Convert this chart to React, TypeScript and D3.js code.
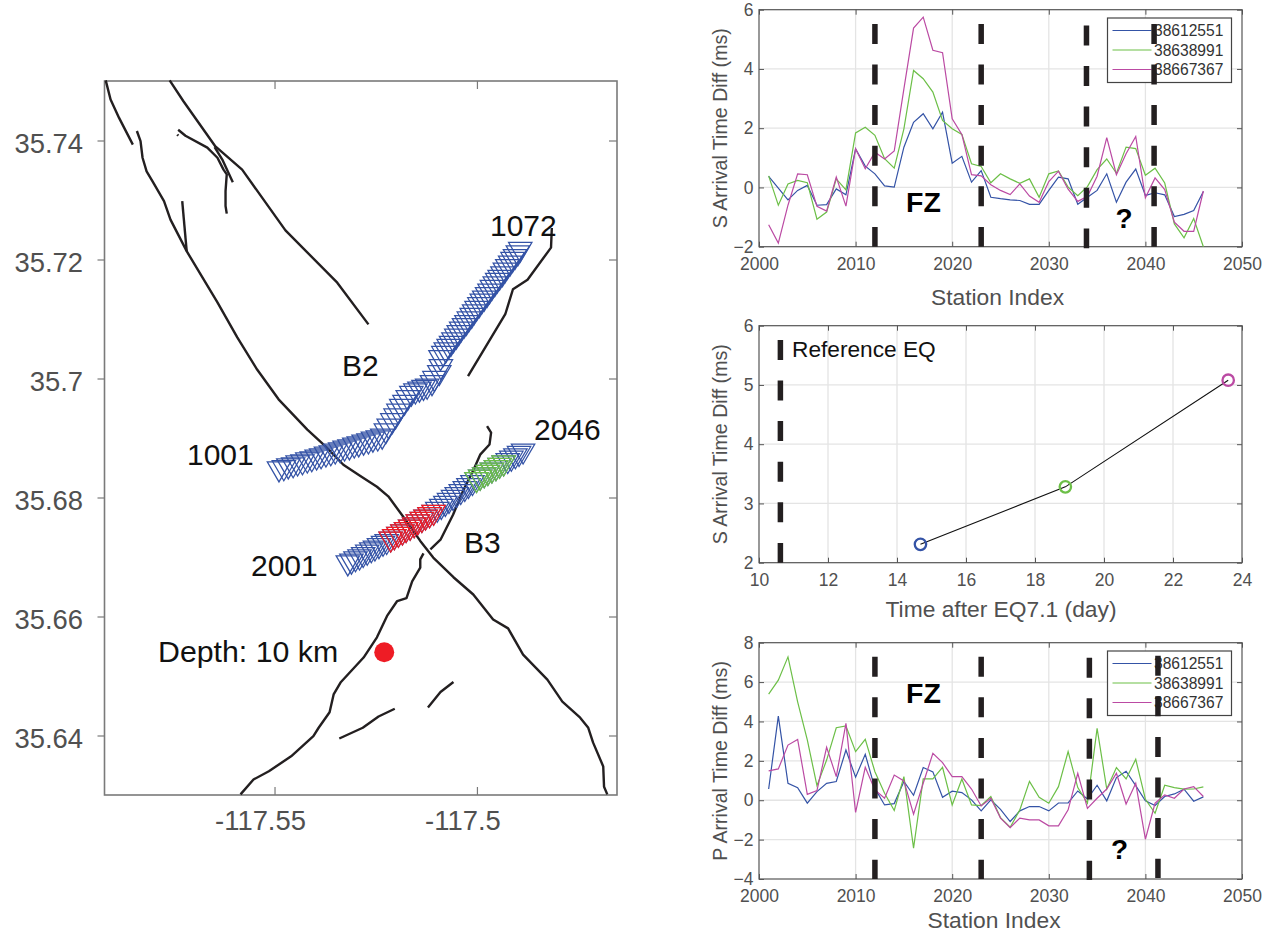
import { useEffect, useRef } from "react";
import * as d3 from "d3";

const FONT = "'Liberation Sans', Arial, sans-serif";
const BLUE = "#3453a6";
const GREEN = "#6cbf47";
const PURPLE = "#bb4aa3";
const RED = "#ee1c25";
const INK = "#231f20";
const TICK_TEXT = "#505050";

type Pt = [number, number];

// event ids used by both station panels
const eventIds = ["38612551", "38638991", "38667367"];
const stationIdx = d3.range(2001, 2047);

// S arrival time differences (ms)
const sEvent1 = [0.37, -0.02, -0.42, -0.1, 0.07, -0.6, -0.58, -0.05, -0.25, 1.3, 0.72, 0.46, 0.05, 0.01, 1.36, 2.2, 2.49, 1.98, 2.54, 0.82, 1.05, 0.18, 0.57, -0.33, -0.38, -0.42, -0.44, -0.57, -0.57, -0.1, 0.35, 0.29, -0.57, -0.33, -0.1, 0.46, -0.5, 0.18, 0.62, -0.27, -0.18, -0.25, -0.98, -0.91, -0.78, -0.14];
const sEvent2 = [0.39, -0.6, 0.12, 0.24, 0.16, -1.07, -0.83, 0.29, -0.08, 1.84, 2.03, 1.76, 0.97, 0.65, 1.98, 3.95, 3.67, 3.22, 2.26, 1.98, 1.79, 0.8, 0.71, 0.16, 0.46, 0.29, 0.14, 0.29, -0.33, 0.46, 0.56, 0.01, -0.28, 0.03, 0.6, 0.96, 0.48, 1.36, 1.31, 0.41, 0.65, 0.15, -1.23, -1.7, -1.05, -2.0];
const sEvent3 = [-1.26, -1.88, -0.6, 0.46, 0.43, -0.64, -0.8, 0.35, -0.63, 1.31, 0.63, 1.19, 0.96, 1.23, 3.33, 5.38, 5.75, 4.63, 4.55, 2.32, 1.79, 0.43, 0.39, 0.09, -0.1, -0.24, 0.12, -0.29, -0.5, 0.2, 0.55, -0.06, -0.47, -0.3, 0.38, 1.68, 0.43, 1.14, 1.72, -0.35, 0.32, -0.07, -1.17, -1.48, -1.48, -0.12];

// P arrival time differences (ms)
const pEvent1 = [0.57, 4.27, 0.86, 0.64, -0.15, 0.44, 0.86, 0.95, 2.55, 1.17, 2.33, 0.6, -0.24, -0.17, 0.95, 0.25, 1.66, 1.44, 0.15, 0.46, 0.39, 0.02, -0.54, 0.02, -0.46, -1.08, -0.54, -0.32, -0.32, -0.54, -0.14, -0.14, 0.47, 0.07, 0.76, -0.03, 1.15, 1.47, 0.74, -0.03, -0.27, 0.19, 0.32, 0.56, -0.05, 0.17];
const pEvent2 = [5.39, 6.1, 7.28, 5.0, 3.06, 0.74, 2.04, 3.68, 3.77, 2.47, 3.09, 1.45, 0.35, -0.52, 1.2, -2.43, 1.08, 1.08, 1.67, -0.24, 1.08, -0.24, -0.27, 0.19, -0.88, -1.37, -0.49, 0.96, 0.15, -0.15, 0.69, 2.47, 0.64, -0.15, 3.65, 0.57, 1.66, 1.08, 2.08, 0.05, -0.66, 0.76, 0.64, 0.56, 0.57, 0.68];
const pEvent3 = [1.49, 1.59, 2.8, 3.09, 0.3, 0.49, 2.69, 1.2, 3.9, -0.62, 1.67, 0.52, 0.1, 1.28, 0.98, -0.71, 0.86, 2.38, 1.91, 1.2, 1.2, 0.57, -0.29, 0.1, -0.91, -1.39, -0.91, -1.0, -1.0, -1.3, -1.3, -0.49, 1.37, -0.41, 0.1, 0.57, 1.37, -0.19, 0.86, -1.98, -0.15, 0.27, 0.1, 0.57, 0.69, 0.19];

// middle panel
const eqDays = [14.68, 18.88, 23.6];
const eqDiff = [2.31, 3.28, 5.08];
const referenceDay = 10.62;

// vertical marker lines: [x, top value, bottom value]
const sMarkers: [number, number, number][] = [[2012, 5.52, -2], [2023, 5.52, -2], [2033.9, 5.47, -2.05], [2040.9, 5.52, -2]];
const pMarkers: [number, number, number][] = [[2012, 7.29, -4], [2023, 7.29, -4], [2034.2, 7.24, -4.05], [2041.3, 7.34, -3.95]];

// map: fault traces as lon/lat
const faults: Pt[][] = [
  [[-117.5917, 35.7501], [-117.5905, 35.7469], [-117.5884, 35.7438], [-117.585, 35.7393]],
  [[-117.584, 35.7416], [-117.5831, 35.7399], [-117.5826, 35.7371], [-117.5816, 35.7348], [-117.5802, 35.7332], [-117.5773, 35.7298], [-117.5757, 35.7267], [-117.5717, 35.7214], [-117.5641, 35.7128], [-117.5592, 35.7069], [-117.5543, 35.7015], [-117.549, 35.6965], [-117.5419, 35.6914], [-117.5374, 35.6886], [-117.533, 35.6855], [-117.5288, 35.6836], [-117.5247, 35.6818], [-117.5219, 35.6802], [-117.5177, 35.6763], [-117.514, 35.6727], [-117.5108, 35.6699], [-117.5058, 35.6666], [-117.5009, 35.6637], [-117.496, 35.6595], [-117.4923, 35.658], [-117.4886, 35.6536], [-117.4826, 35.6494], [-117.4789, 35.6457], [-117.4745, 35.643], [-117.4725, 35.6413], [-117.4713, 35.6388], [-117.4688, 35.6348], [-117.4686, 35.6314], [-117.4678, 35.6301]],
  [[-117.5759, 35.7501], [-117.5725, 35.7466], [-117.5646, 35.739], [-117.558, 35.7351], [-117.5473, 35.7249], [-117.5345, 35.7161], [-117.5268, 35.7091]],
  [[-117.5738, 35.7418], [-117.572, 35.7408], [-117.5666, 35.7388], [-117.5641, 35.7371], [-117.5626, 35.7351], [-117.5618, 35.7343], [-117.5621, 35.7315], [-117.5621, 35.729], [-117.5618, 35.7277]],
  [[-117.5648, 35.7389], [-117.5629, 35.7368], [-117.5603, 35.733]],
  [[-117.574, 35.741], [-117.5738, 35.7408]],
  [[-117.5728, 35.7298], [-117.5717, 35.7214]],
  [[-117.5022, 35.7004], [-117.493, 35.7108], [-117.4911, 35.715], [-117.4875, 35.7166], [-117.4817, 35.722], [-117.4815, 35.7253]],
  [[-117.4975, 35.692], [-117.4965, 35.6909], [-117.4969, 35.6889], [-117.4992, 35.6872], [-117.5008, 35.6847], [-117.5033, 35.6813], [-117.5059, 35.6771], [-117.509, 35.6729], [-117.5115, 35.6713]],
  [[-117.5132, 35.6706], [-117.514, 35.6696], [-117.514, 35.6682], [-117.516, 35.6659], [-117.5174, 35.6631], [-117.5197, 35.6626], [-117.5222, 35.6601], [-117.5247, 35.6565], [-117.528, 35.6531], [-117.5337, 35.6489], [-117.5354, 35.6469], [-117.5364, 35.6439], [-117.5391, 35.6413], [-117.5404, 35.6399], [-117.5459, 35.6365], [-117.5514, 35.634], [-117.5552, 35.6326], [-117.5584, 35.6301]],
  [[-117.534, 35.6395], [-117.5282, 35.6413], [-117.5243, 35.6432], [-117.5203, 35.6445]],
  [[-117.5121, 35.6447], [-117.509, 35.6473], [-117.5058, 35.649]],
];

// array B2 stations 1001..1072
const b2Lon = [-117.5489, -117.5477, -117.5466, -117.5454, -117.5443, -117.5431, -117.5419, -117.5408, -117.5396, -117.5385, -117.5373, -117.5361, -117.535, -117.5338, -117.5327, -117.5315, -117.5303, -117.5292, -117.528, -117.5268, -117.5257, -117.5245, -117.5234,
  -117.5225, -117.5218, -117.5209, -117.5201, -117.5194, -117.5187, -117.5179, -117.5171, -117.5162, -117.5152, -117.5142, -117.5132, -117.5123, -117.5111, -117.5105, -117.5093, -117.5089, -117.509,
  -117.5083, -117.5077, -117.507, -117.5064, -117.5058, -117.5051, -117.5045, -117.5039, -117.5032, -117.5026, -117.502, -117.5013, -117.5007, -117.5001, -117.4994, -117.4988, -117.4982, -117.4975, -117.4969, -117.4963, -117.4956, -117.495, -117.4944, -117.4937, -117.4931, -117.4925, -117.4918, -117.4912, -117.4906, -117.4899, -117.4893];
const b2Lat = [35.6843, 35.6845, 35.6848, 35.685, 35.6853, 35.6855, 35.6858, 35.686, 35.6863, 35.6865, 35.6868, 35.687, 35.6873, 35.6875, 35.6878, 35.688, 35.6883, 35.6885, 35.6888, 35.689, 35.6893, 35.6895, 35.6898,
  35.6907, 35.6915, 35.6924, 35.6932, 35.694, 35.6948, 35.6955, 35.6963, 35.697, 35.6974, 35.6977, 35.698, 35.6982, 35.6988, 35.6995, 35.7005, 35.7015, 35.703,
  35.7037, 35.7043, 35.7049, 35.7054, 35.706, 35.7066, 35.7072, 35.7078, 35.7084, 35.7089, 35.7095, 35.7101, 35.7107, 35.7113, 35.7119, 35.7125, 35.713, 35.7136, 35.7142, 35.7148, 35.7154, 35.716, 35.7165, 35.7171, 35.7177, 35.7183, 35.7189, 35.7195, 35.72, 35.7206, 35.7212];

// array B3 stations 2001..2046
const b3Lon = [-117.5319, -117.531, -117.53, -117.529, -117.5281, -117.5271, -117.5261, -117.5252, -117.5242, -117.5232, -117.5223, -117.5213, -117.5204, -117.5194, -117.5184, -117.5175, -117.5165, -117.5155, -117.5146, -117.5136, -117.5127, -117.5117, -117.5107, -117.5098, -117.5088, -117.5078, -117.5069, -117.5059, -117.505, -117.504, -117.503, -117.5021, -117.5011, -117.5001, -117.4992, -117.4982, -117.4973, -117.4963, -117.4953, -117.4944, -117.4934, -117.4924, -117.4915, -117.4905, -117.4896, -117.4886];
const b3Lat = [35.6685, 35.6688, 35.6692, 35.6695, 35.6699, 35.6703, 35.6707, 35.671, 35.6714, 35.6718, 35.6721, 35.6725, 35.6729, 35.6733, 35.6737, 35.6741, 35.6745, 35.6749, 35.6754, 35.6758, 35.6762, 35.6766, 35.677, 35.6775, 35.678, 35.6785, 35.679, 35.6795, 35.68, 35.6805, 35.681, 35.6815, 35.682, 35.6825, 35.6829, 35.6833, 35.6837, 35.6841, 35.6845, 35.6849, 35.6853, 35.6857, 35.6861, 35.6865, 35.6869, 35.6873];

const fzStations = [2012, 2023];
const secondZone = [2034, 2041];
const epicenter: Pt = [-117.5229, 35.654];

const lonTicks = [-117.55, -117.5];
const latTicks = [35.64, 35.66, 35.68, 35.7, 35.72, 35.74];

type Sel = d3.Selection<any, any, any, any>;

function addText(g: Sel, str: string, x: number, y: number, size: number, weight = "normal", fill = "#111") {
  g.append("text").attr("x", x).attr("y", y).attr("font-size", size).attr("font-weight", weight).attr("fill", fill).text(str);
}

function panelFrame(svg: Sel, x: d3.ScaleLinear<number, number>, y: d3.ScaleLinear<number, number>, xTicks: number[], yTicks: number[], yLabel: string, xLabel: string, xLabelX: number, xLabelY: number) {
  const [l, r] = x.range();
  const [b, t] = y.range();
  const g = svg.append("g");

  // grid first so the lines go over it
  g.append("g").selectAll("line").data(xTicks.slice(1, -1)).join("line")
    .attr("x1", d => x(d)).attr("x2", d => x(d)).attr("y1", t).attr("y2", b)
    .attr("stroke", "#e4e4e4").attr("stroke-width", 1.3);
  g.append("g").selectAll("line").data(yTicks.slice(1, -1)).join("line")
    .attr("y1", d => y(d)).attr("y2", d => y(d)).attr("x1", l).attr("x2", r)
    .attr("stroke", "#e4e4e4").attr("stroke-width", 1.3);

  g.append("rect").attr("x", l).attr("y", t).attr("width", r - l).attr("height", b - t)
    .attr("fill", "none").attr("stroke", "#555").attr("stroke-width", 1.2);

  const bottom = g.append("g").attr("transform", `translate(0,${b})`)
    .call(d3.axisBottom(x).tickValues(xTicks).tickSize(-5).tickPadding(10.5).tickFormat(d3.format("d") as any));
  const left = g.append("g").attr("transform", `translate(${l},0)`)
    .call(d3.axisLeft(y).tickValues(yTicks).tickSize(-5).tickPadding(5.5).tickFormat(d3.format("d") as any));
  g.append("g").attr("transform", `translate(0,${t})`)
    .call(d3.axisTop(x).tickValues(xTicks).tickSize(-5).tickFormat(() => ""));
  g.append("g").attr("transform", `translate(${r},0)`)
    .call(d3.axisRight(y).tickValues(yTicks).tickSize(-5).tickFormat(() => ""));

  g.selectAll(".domain").remove();
  g.selectAll(".tick line").attr("stroke", "#555").attr("stroke-width", 1);
  bottom.selectAll("text").attr("font-size", 17.5).attr("font-family", FONT).attr("fill", TICK_TEXT);
  left.selectAll("text").attr("font-size", 17.5).attr("font-family", FONT).attr("fill", TICK_TEXT);

  g.append("text").attr("transform", `translate(727,${(t + b) / 2}) rotate(-90)`)
    .attr("text-anchor", "middle").attr("font-size", 19.6).attr("fill", TICK_TEXT).text(yLabel);
  g.append("text").attr("x", xLabelX).attr("y", xLabelY)
    .attr("text-anchor", "middle").attr("font-size", 22.8).attr("fill", TICK_TEXT).text(xLabel);
}

function drawMarkers(svg: Sel, x: d3.ScaleLinear<number, number>, y: d3.ScaleLinear<number, number>, markers: [number, number, number][]) {
  svg.append("g").selectAll("line").data(markers).join("line")
    .attr("x1", d => x(d[0])).attr("x2", d => x(d[0]))
    .attr("y1", d => y(d[1])).attr("y2", d => y(d[2]))
    .attr("stroke", INK).attr("stroke-width", 5.5).attr("stroke-dasharray", "20 20.6");
}

function drawLegend(svg: Sel, top: number) {
  const g = svg.append("g").attr("transform", `translate(1107.5,${top})`);
  g.append("rect").attr("width", 124).attr("height", 64.5)
    .attr("fill", "#fff").attr("stroke", "#444").attr("stroke-width", 1.2);
  eventIds.forEach((id, i) => {
    const rowY = 12.5 + i * 19.5;
    g.append("line").attr("x1", 5).attr("x2", 44).attr("y1", rowY).attr("y2", rowY)
      .attr("stroke", [BLUE, GREEN, PURPLE][i]).attr("stroke-width", 1.1);
    g.append("text").attr("x", 46.5).attr("y", rowY + 5.5).attr("font-size", 15.6).attr("fill", "#333").text(id);
  });
}

function drawStationPanel(svg: Sel, top: number, bottom: number, yDomain: [number, number], yTicks: number[], series: number[][], markers: [number, number, number][], yLabel: string, xLabelX: number, xLabelY: number, legendTop: number, fzY: number, qX: number, qY: number) {
  const x = d3.scaleLinear().domain([2000, 2050]).range([759, 1242]);
  const y = d3.scaleLinear().domain(yDomain).range([bottom, top]);
  panelFrame(svg, x, y, d3.range(2000, 2051, 10), yTicks, yLabel, "Station Index", xLabelX, xLabelY);

  const line = d3.line<number>().x((_, i) => x(stationIdx[i])).y(d => y(d));
  [BLUE, GREEN, PURPLE].forEach((color, i) => {
    svg.append("path").attr("d", line(series[i])).attr("fill", "none")
      .attr("stroke", color).attr("stroke-width", 1.2);
  });

  drawLegend(svg, legendTop);
  drawMarkers(svg, x, y, markers);
  addText(svg, "FZ", 906, fzY, 28.5, "bold", "#000");
  addText(svg, "?", qX, qY, 28, "bold", "#000");
}

function drawMap(svg: Sel) {
  const x = d3.scaleLinear().domain([-117.592, -117.4654]).range([104.5, 617]);
  const y = d3.scaleLinear().domain([35.63, 35.75]).range([795, 81]);
  const g = svg.append("g");

  g.append("rect").attr("x", 104.5).attr("y", 81).attr("width", 512.5).attr("height", 714)
    .attr("fill", "none").attr("stroke", "#7a7a7a").attr("stroke-width", 1.6);

  const bottom = g.append("g").attr("transform", "translate(0,795)")
    .call(d3.axisBottom(x).tickValues(lonTicks).tickSize(-8).tickPadding(15.8).tickFormat(d => String(d)));
  const left = g.append("g").attr("transform", "translate(104.5,0)")
    .call(d3.axisLeft(y).tickValues(latTicks).tickSize(7).tickPadding(14.5).tickFormat(d => String(d)));
  g.append("g").attr("transform", "translate(0,81)")
    .call(d3.axisTop(x).tickValues(lonTicks).tickSize(-8).tickFormat(() => ""));
  g.append("g").attr("transform", "translate(617,0)")
    .call(d3.axisRight(y).tickValues(latTicks).tickSize(-8).tickFormat(() => ""));
  g.selectAll(".domain").remove();
  g.selectAll(".tick line").attr("stroke", "#7a7a7a").attr("stroke-width", 1.2);
  bottom.selectAll("text").attr("font-size", 27.4).attr("font-family", FONT).attr("fill", TICK_TEXT).attr("dx", -14.5);
  left.selectAll("text").attr("font-size", 27.4).attr("font-family", FONT).attr("fill", TICK_TEXT).attr("dy", "0.44em");

  const faultLine = d3.line<Pt>().x(d => x(d[0])).y(d => y(d[1]));
  svg.append("g").selectAll("path").data(faults).join("path")
    .attr("d", d => faultLine(d)).attr("fill", "none").attr("stroke", INK)
    .attr("stroke-width", 2.4).attr("stroke-linejoin", "round").attr("stroke-linecap", "butt");

  // station triangles, point down
  const tri = "M-11.7,-10L11.7,-10L0,10Z";
  const addStations = (lons: number[], lats: number[], color: string) => {
    svg.append("g").selectAll("path").data(lons).join("path")
      .attr("transform", (d, i) => `translate(${x(d)},${y(lats[i])})`)
      .attr("d", tri).attr("fill", "none").attr("stroke", color).attr("stroke-width", 1.25);
  };
  addStations(b2Lon, b2Lat, BLUE);
  addStations(b3Lon, b3Lat, BLUE);
  const pick = (arr: number[], [a, b]: number[]) => arr.slice(a - 2001, b - 2001 + 1);
  addStations(pick(b3Lon, fzStations), pick(b3Lat, fzStations), RED);
  addStations(pick(b3Lon, secondZone), pick(b3Lat, secondZone), GREEN);

  svg.append("circle").attr("cx", x(epicenter[0])).attr("cy", y(epicenter[1])).attr("r", 10).attr("fill", RED);

  addText(svg, "1072", 490, 236, 30);
  addText(svg, "B2", 342, 376, 30);
  addText(svg, "1001", 187, 465, 30);
  addText(svg, "2046", 534, 440, 30);
  addText(svg, "2001", 251, 576, 30);
  addText(svg, "B3", 464, 553, 30);
  addText(svg, "Depth: 10 km", 158, 662, 30.3);
}

function drawTimePanel(svg: Sel) {
  const x = d3.scaleLinear().domain([10, 24]).range([759, 1242]);
  const y = d3.scaleLinear().domain([2, 6]).range([562.7, 325.7]);
  panelFrame(svg, x, y, d3.range(10, 25, 2), d3.range(2, 7), "S Arrival Time Diff (ms)", "Time after EQ7.1 (day)", 1001, 617);

  const line = d3.line<number>().x(d => x(d)).y((_, i) => y(eqDiff[i]));
  svg.append("path").attr("d", line(eqDays)).attr("fill", "none").attr("stroke", "#111").attr("stroke-width", 1.1);
  svg.append("g").selectAll("circle").data(eqDays).join("circle")
    .attr("cx", d => x(d)).attr("cy", (_, i) => y(eqDiff[i])).attr("r", 5.7)
    .attr("fill", "none").attr("stroke", (_, i) => [BLUE, GREEN, PURPLE][i]).attr("stroke-width", 2.3);

  drawMarkers(svg, x, y, [[referenceDay, 5.76, 2]]);
  addText(svg, "Reference EQ", 792, 357, 22.7);
}

export default function App() {
  const ref = useRef<SVGSVGElement>(null);

  useEffect(() => {
    const svg = d3.select(ref.current);
    svg.selectAll("*").remove();
    drawMap(svg);
    drawStationPanel(svg, 9.7, 246.7, [-2, 6], d3.range(-2, 7, 2), [sEvent1, sEvent2, sEvent3], sMarkers, "S Arrival Time Diff (ms)", 997.5, 305, 18, 212, 1115.5, 228);
    drawTimePanel(svg);
    drawStationPanel(svg, 642.7, 879, [-4, 8], d3.range(-4, 9, 2), [pEvent1, pEvent2, pEvent3], pMarkers, "P Arrival Time Diff (ms)", 994, 928, 651, 702.5, 1111, 859);
  }, []);

  return <svg ref={ref} width={1270} height={932} style={{position: "absolute", left: 0, top: 0, fontFamily: FONT, background: "#fff"}}/>;
}
